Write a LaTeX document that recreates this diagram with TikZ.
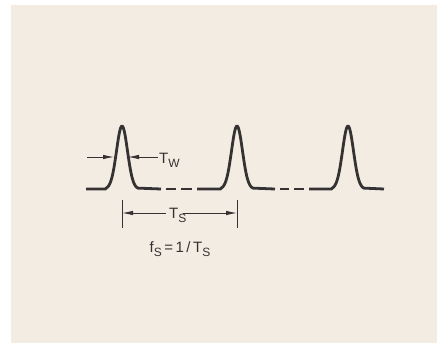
\documentclass[tikz,border=0pt]{standalone}
\usepackage{fontspec}
\setmainfont{Liberation Sans}
\usetikzlibrary{arrows.meta}
\definecolor{paper}{RGB}{243,236,226}
\definecolor{ink}{RGB}{52,50,50}
\newcommand\mysub[1]{\raisebox{-4.5pt}{\fontsize{12}{12}\selectfont #1}}
\tikzset{
  wave/.style={draw=ink, line width=2.8pt, line cap=butt, line join=round},
  dim/.style={draw=ink, line width=0.9pt},
  dimarrow/.style={dim, -{Latex[length=11pt,width=4.5pt]}},
  lbl/.style={inner sep=0pt, text=ink, font=\fontsize{15}{15}\selectfont}
}
\begin{document}
\begin{tikzpicture}[x=1pt,y=-1pt]
\useasboundingbox (0,0) rectangle (440,346);
\fill[white] (0,0) rectangle (440,346);
\fill[paper] (11,5) rectangle (437,343);

% waveform: solid parts with pulses
\draw[wave] (86,189) -- (106,189)
  -- plot[domain=-16:16, samples=61, smooth] ({122+\x},{189-63*exp(-(\x*\x)/60)})
  -- (161,189);
\draw[wave] (166,189) -- (176,189);
\draw[wave] (181,189) -- (192,189);
\draw[wave] (197,189) -- (221,189)
  -- plot[domain=-16:16, samples=61, smooth] ({237+\x},{189-63*exp(-(\x*\x)/60)})
  -- (275,189);
\draw[wave] (280,189) -- (289,189);
\draw[wave] (294,189) -- (304,189);
\draw[wave] (309,189) -- (332,189)
  -- plot[domain=-16:16, samples=61, smooth] ({348+\x},{189-63*exp(-(\x*\x)/60)})
  -- (384,189);

% T_W
\node[lbl, anchor=base west] (tw) at (159,163) {T\mysub{W}};
\coordinate (twL0) at (87,157);
\coordinate (twL1) at (114,157);
\coordinate (twR1) at (128,157);
\draw[dimarrow] (twL0) -- (twL1);
\draw[dimarrow] ([xshift=-1pt]tw.west |- twR1) -- (twR1);

% T_S
\coordinate (p1) at (122,200);
\coordinate (p1b) at (122,228);
\coordinate (p2) at (237,200);
\coordinate (p2b) at (237,228);
\draw[dim] (p1) -- (p1b);
\draw[dim] (p2) -- (p2b);
\node[lbl, anchor=base west] (ts) at (169,218) {T\mysub{S}};
\coordinate (tsL) at (122,213);
\coordinate (tsR) at (237,213);
\draw[dimarrow] ([xshift=-3pt]ts.west |- tsL) -- (tsL);
\draw[dimarrow] ([xshift=-4pt]ts.east |- tsR) -- (tsR);

% f_S = 1/T_S
\node[lbl, anchor=base] (fs) at (180,252) {f\mysub{S}\,=\,1\,/\,T\mysub{S}};
\end{tikzpicture}
\end{document}
